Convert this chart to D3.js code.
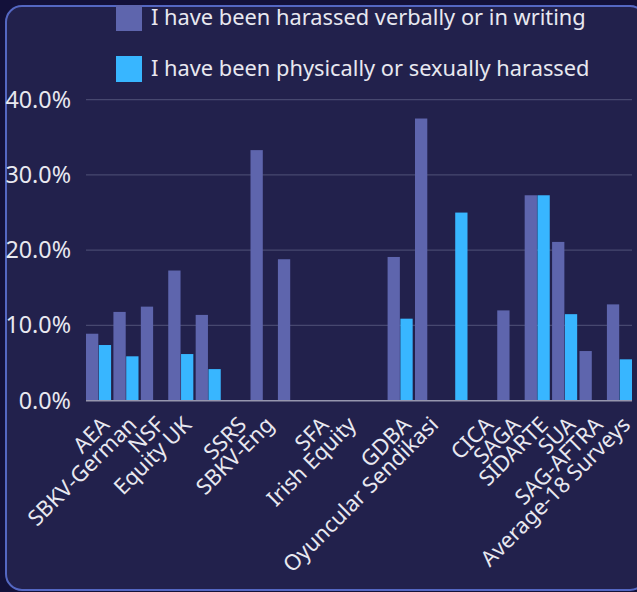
<!DOCTYPE html>
<html>
<head>
<meta charset="utf-8">
<script src="https://cdn.jsdelivr.net/npm/d3@7"></script>
<style>
  html, body { margin: 0; padding: 0; background: #13113a; }
  svg { display: block; }
</style>
</head>
<body>
<script>
// one slot per survey; 4 slots carry no label in the original
let categories = ["AEA", "SBKV-German", "NSF", "Equity UK", "", "SSRS", "SBKV-Eng", "", "SFA", "Irish Equity",
                  "", "GDBA", "Oyuncular Sendikasi", "", "CICA", "SAGA", "SIDARTE", "SUA", "SAG-AFTRA", "Average-18 Surveys"];
let verbal   = [8.9, 11.8, 12.5, 17.3, 11.4, null, 33.3, 18.8, null, null, null, 19.1, 37.5, null, null, 12.0, 27.3, 21.1, 6.6, 12.8];
let physical = [7.4, 5.9, null, 6.2, 4.2, null, null, null, null, null, null, 10.9, null, 25.0, null, null, 27.3, 11.5, null, 5.5];
let series_names = ["I have been harassed verbally or in writing", "I have been physically or sexually harassed"];
let colors = ["#5e65ad", "#38b6ff"];
let y_ticks = [0, 10, 20, 30, 40];

let width = 637, height = 592;
let margin = { top: 99.7, right: 5, bottom: 191.3, left: 86 };
let font = "'Noto Sans', sans-serif";
let text_col = "#e8e8f0";

let svg = d3.select("body").append("svg")
  .attr("width", width)
  .attr("height", height);

// the source font runs wider than Noto Sans: size so the first legend line is ~435px
let probe = svg.append("text").attr("font-family", font).attr("font-size", 20).text(series_names[0]);
let fs = 20 * 435 / probe.node().getComputedTextLength();
probe.remove();

svg.append("rect").attr("x", 0).attr("y", 0).attr("width", width).attr("height", height).attr("fill", "#13113a");
svg.append("rect")
  .attr("x", 6).attr("y", 6).attr("width", 640).attr("height", 584)
  .attr("rx", 16).attr("ry", 16)
  .attr("fill", "#22214c")
  .attr("stroke", "#5467c2").attr("stroke-width", 2);

let x = d3.scaleBand()
  .domain(d3.range(categories.length))
  .range([margin.left, width - margin.right])
  .paddingInner(0.085)
  .paddingOuter(0);

let xs = d3.scaleBand()
  .domain([0, 1])
  .range([0, x.bandwidth()])
  .paddingInner(0.04);

let y = d3.scaleLinear()
  .domain([0, 40])
  .range([height - margin.bottom, margin.top]);

// gridlines
svg.append("g")
  .selectAll("line")
  .data(y_ticks.filter(t => t > 0))
  .join("line")
    .attr("x1", margin.left).attr("x2", width - margin.right)
    .attr("y1", d => y(d)).attr("y2", d => y(d))
    .attr("stroke", "#47486f").attr("stroke-width", 1.2);

// y axis labels
let yaxis = svg.append("g")
  .attr("transform", `translate(${margin.left},0)`)
  .call(d3.axisLeft(y).tickValues(y_ticks).tickSize(0).tickPadding(15).tickFormat(d => d.toFixed(1) + "%"));
yaxis.select(".domain").remove();
yaxis.selectAll("text")
  .attr("font-family", font).attr("font-size", fs + 1.5).attr("fill", text_col);

// bars
let rows = categories.map((c, i) => ({ i: i, vals: [verbal[i], physical[i]] }));
let groups = svg.append("g")
  .selectAll("g")
  .data(rows)
  .join("g")
    .attr("transform", d => `translate(${x(d.i)},0)`);
groups.selectAll("rect")
  .data(d => d.vals.map((v, k) => ({ k: k, v: v })).filter(e => e.v != null))
  .join("rect")
    .attr("x", d => xs(d.k))
    .attr("y", d => y(d.v))
    .attr("width", xs.bandwidth())
    .attr("height", d => y(0) - y(d.v))
    .attr("fill", d => colors[d.k]);

// zero line
svg.append("line")
  .attr("x1", margin.left).attr("x2", width - margin.right)
  .attr("y1", y(0)).attr("y2", y(0))
  .attr("stroke", "#9696ae").attr("stroke-width", 1.5);

// x labels, rotated
svg.append("g")
  .selectAll("text")
  .data(rows.filter(d => categories[d.i] != ""))
  .join("text")
    .attr("transform", d => `translate(${x(d.i) + x.step() / 2 + x.bandwidth() / 2 - 7},${y(0) + 20}) rotate(-45)`)
    .attr("text-anchor", "end")
    .attr("dy", "0.35em")
    .attr("font-family", font).attr("font-size", fs).attr("fill", text_col)
    .text(d => categories[d.i]);

// legend
let legend = svg.append("g")
  .selectAll("g")
  .data(series_names)
  .join("g")
    .attr("transform", (d, i) => `translate(116,${5 + i * 51})`);
legend.append("rect")
  .attr("width", 26).attr("height", 26)
  .attr("fill", (d, i) => colors[i]);
legend.append("text")
  .attr("x", 35).attr("y", 19.5)
  .attr("font-family", font).attr("font-size", fs).attr("fill", text_col)
  .text(d => d);
</script>
</body>
</html>
